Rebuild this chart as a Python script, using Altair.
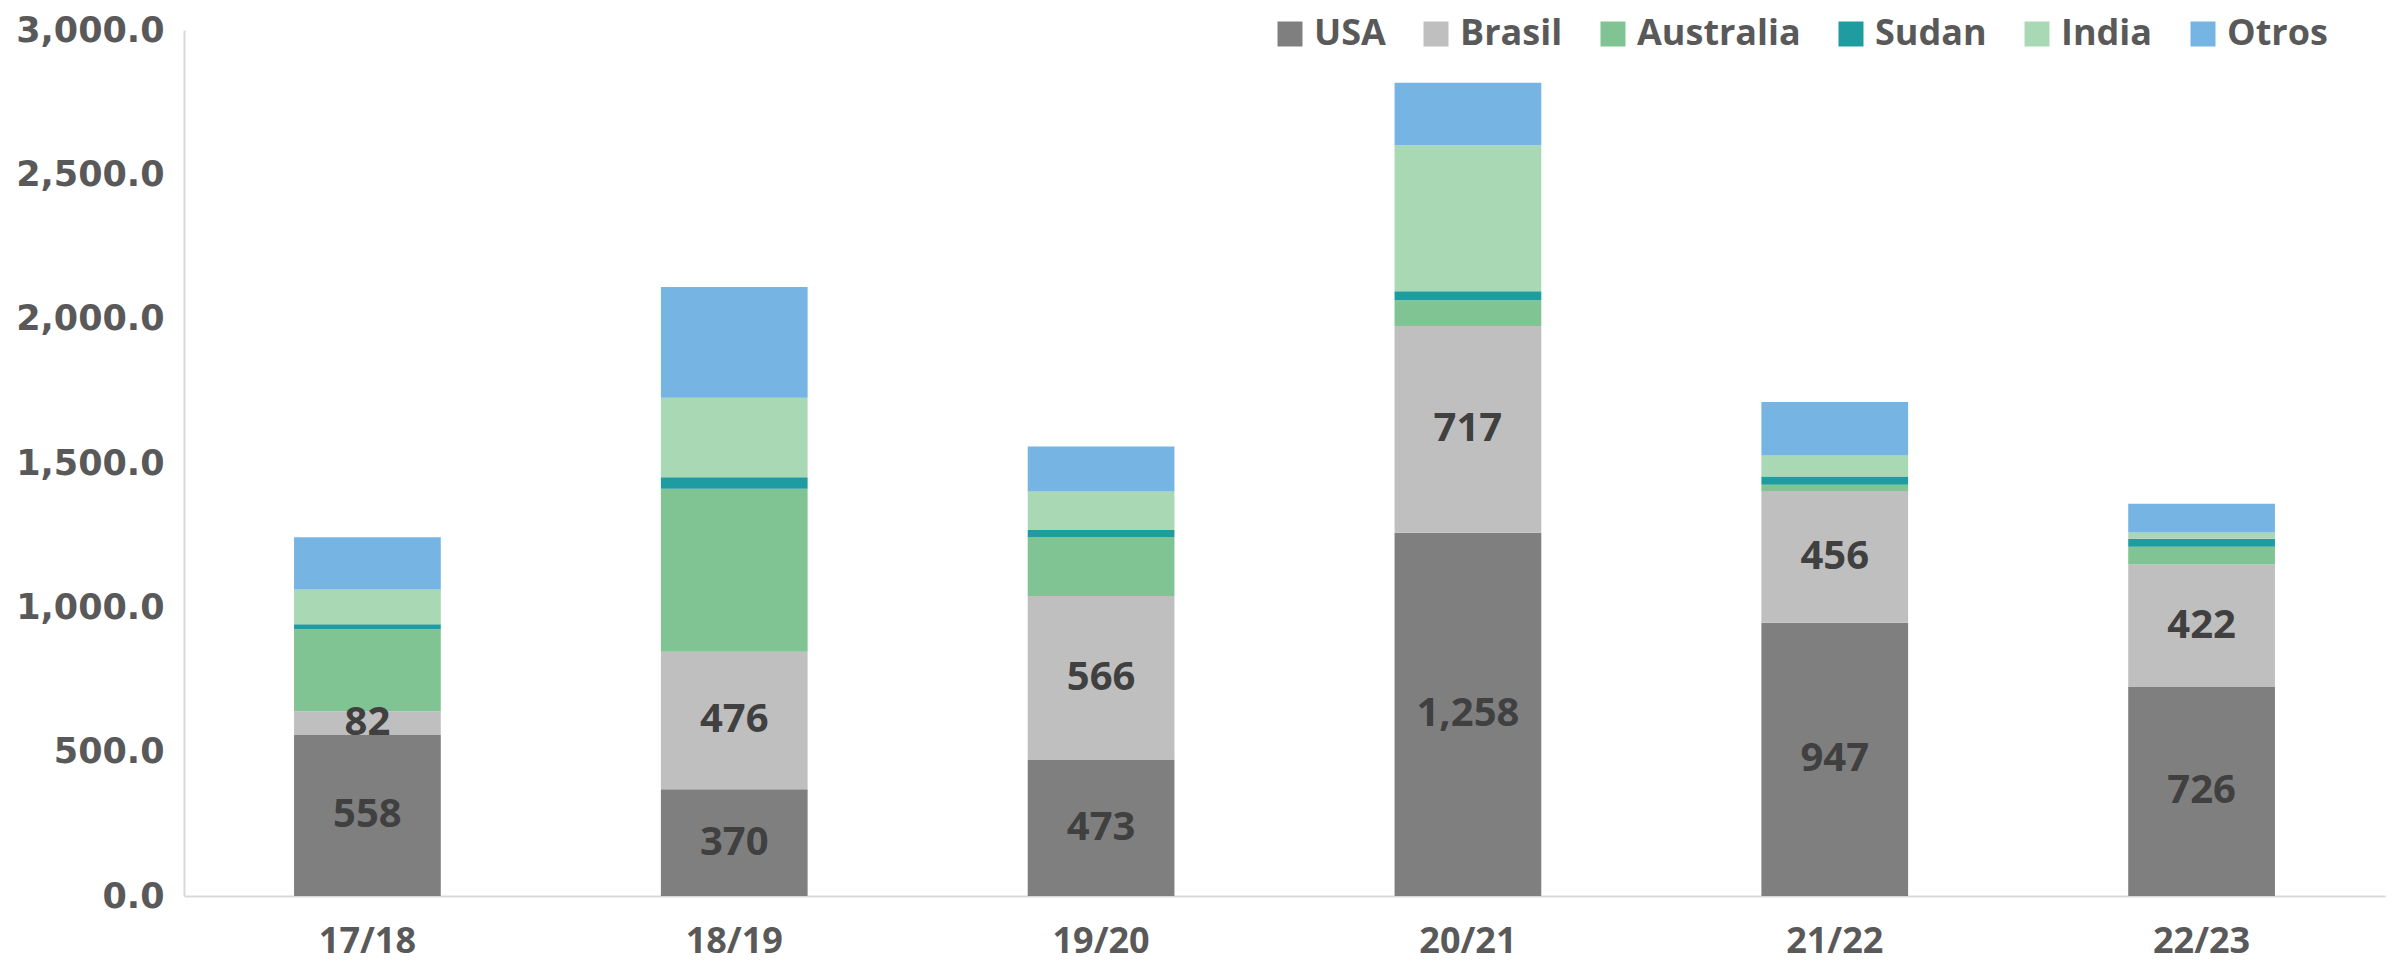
import altair as alt
import pandas as pd

seasons = ["17/18", "18/19", "19/20", "20/21", "21/22", "22/23"]
countries = ["USA", "Brasil", "Australia", "Sudan", "India", "Otros"]
colors = ["#7f7f7f", "#bfbfbf", "#7fc492", "#1f9ca0", "#a9d8b5", "#75b4e3"]

usa = [558, 370, 473, 1258, 947, 726]
brasil = [82, 476, 566, 717, 456, 422]
australia = [284, 565, 205, 89, 22, 62]
sudan = [17, 40, 24, 31, 28, 28]
india = [121, 275, 133, 506, 73, 21]
otros = [181, 384, 156, 216, 185, 100]

series = [usa, brasil, australia, sudan, india, otros]
rows = []
for i, s in enumerate(seasons):
    for j, c in enumerate(countries):
        rows.append({"season": s, "country": c, "ord": j, "value": series[j][i]})
df = pd.DataFrame(rows)

x_enc = alt.X(
    "season:N",
    sort=seasons,
    scale=alt.Scale(paddingInner=0.6, paddingOuter=0.3),
    axis=alt.Axis(
        title=None, labelAngle=0, ticks=False, tickSize=0, labelPadding=28,
        labelFont="Open Sans", labelFontWeight="bold", labelFontSize=36,
        labelColor="#595959", domainColor="#d9d9d9", domainWidth=2,
    ),
)

base = alt.Chart(df)

bars = base.mark_bar().encode(
    x=x_enc,
    y=alt.Y(
        "value:Q",
        stack="zero",
        scale=alt.Scale(domain=[0, 3000], nice=False),
        axis=alt.Axis(
            title=None, values=[0, 500, 1000, 1500, 2000, 2500, 3000],
            format=",.1f", grid=False, ticks=False, tickSize=0, labelPadding=20,
            labelFont="DejaVu Sans", labelFontWeight="bold", labelFontSize=35,
            labelColor="#595959", domainColor="#d9d9d9", domainWidth=2,
        ),
    ),
    color=alt.Color(
        "country:N",
        sort=countries,
        scale=alt.Scale(domain=countries, range=colors),
        legend=alt.Legend(
            title=None, orient="none", direction="horizontal",
            legendX=1088, legendY=-14, padding=0,
            symbolType="square", symbolSize=625, symbolStrokeWidth=0,
            labelFont="Open Sans", labelFontWeight="bold", labelFontSize=36,
            labelColor="#595959", labelOffset=6, columnPadding=32, labelLimit=0,
        ),
    ),
    order=alt.Order("ord:Q", sort="ascending"),
)

labels = (
    base.transform_stack(
        stack="value", groupby=["season"], as_=["y0", "y1"],
        sort=[alt.SortField("ord", order="ascending")],
    )
    .transform_filter("datum.ord < 2")
    .transform_calculate(mid="(datum.y0 + datum.y1) / 2")
    .mark_text(font="Open Sans", fontWeight="bold", fontSize=40, color="#404040",
               baseline="middle", align="center")
    .encode(
        x=alt.X("season:N", sort=seasons),
        y=alt.Y("mid:Q"),
        text=alt.Text("value:Q", format=",.0f"),
    )
)

chart = (
    alt.layer(bars, labels)
    .properties(
        width=2201, height=866,
        autosize=alt.AutoSizeParams(type="none"),
        padding={"left": 176, "top": 22, "right": 12, "bottom": 66},
    )
    .configure_view(stroke=None)
)

chart.save("out.html", embed_options={"renderer": "svg", "actions": False})
